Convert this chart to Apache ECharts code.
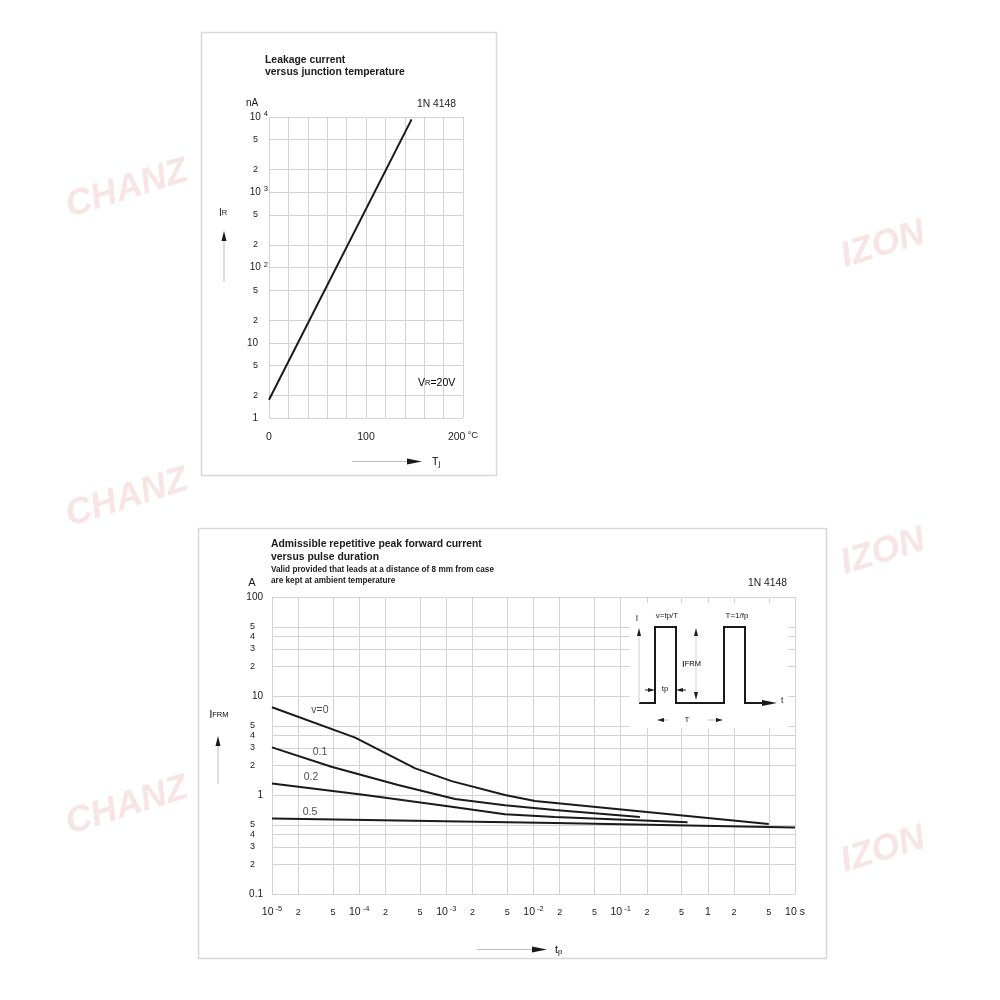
<!DOCTYPE html>
<html><head><meta charset="utf-8">
<script src="https://cdn.jsdelivr.net/npm/echarts@6/dist/echarts.min.js"></script>
<style>html,body{margin:0;padding:0;background:#fff}#c{width:1000px;height:1000px}</style>
</head><body><div id="c"></div>
<script>
// ---------- Top chart: leakage current vs junction temperature ----------
const tjTemp = [0, 147];            // °C
const irLeakage = [1.75, 9300];     // nA
const irMinorTicks = [2, 5, 20, 50, 200, 500, 2000, 5000];
const irMinorLabels = ['2', '5', '2', '5', '2', '5', '2', '5'];
const tjLabelValues = [0, 100, 200];

// ---------- Bottom chart: IFRM vs pulse duration ----------
const tpV0 = [1e-5, 9e-5, 4.4e-4, 1.15e-3, 4.7e-3, 1.04e-2, 5];
const ifrmV0 = [7.7, 3.8, 1.86, 1.38, 1.0, 0.87, 0.51];
const tpV01 = [1e-5, 4.8e-5, 2.8e-4, 1.26e-3, 4.7e-3, 1.76e-2, 0.166];
const ifrmV01 = [3.03, 1.93, 1.26, 0.91, 0.79, 0.705, 0.6];
const tpV02 = [1e-5, 1.17e-4, 1.15e-3, 4.7e-3, 1.76e-2, 0.585];
const ifrmV02 = [1.31, 1.0, 0.76, 0.64, 0.60, 0.53];
const tpV05 = [1e-5, 1.76e-2, 10];
const ifrmV05 = [0.58, 0.52, 0.47];
const curveNames = ['v=0', '0.1', '0.2', '0.5'];
const curveLabelAnchors = [[3.55e-5, 7.2], [3.55e-5, 2.72], [2.8e-5, 1.52], [2.73e-5, 0.673]];

const tpMinorTicks = [2e-5, 5e-5, 2e-4, 5e-4, 2e-3, 5e-3, 2e-2, 5e-2, 0.2, 0.5, 2, 5];
const tpMinorLabels = ['2', '5', '2', '5', '2', '5', '2', '5', '2', '5', '2', '5'];
const ifrmMinorTicks = [0.2, 0.3, 0.4, 0.5, 2, 3, 4, 5, 20, 30, 40, 50];
const ifrmMinorLabels = ['2', '3', '4', '5', '2', '3', '4', '5', '2', '3', '4', '5'];

const FONT = 'Liberation Sans, Arial, sans-serif';
const GRID_C = '#d3d3d3';
const INK = '#1a1a1a';

function zip(a, b) { return a.map((v, i) => [v, b[i]]); }
function exp10(v) { return Math.round(Math.log10(v)); }

const supRich = {
  b: { fontSize: 10, color: INK, fontFamily: FONT, lineHeight: 14 },
  s: { fontSize: 7.5, color: INK, fontFamily: FONT, lineHeight: 8, verticalAlign: 'top', padding: [0, 0, 0, 3] },
  sp: { width: 10, fontSize: 10, lineHeight: 14 }
};
const supRichX = {
  b: { fontSize: 10.5, color: INK, fontFamily: FONT, lineHeight: 14 },
  s: { fontSize: 7.5, color: INK, fontFamily: FONT, lineHeight: 8, verticalAlign: 'top', padding: [0, 0, 0, 2] },
  c: { fontSize: 9.5, color: INK, fontFamily: FONT, lineHeight: 10, verticalAlign: 'top', padding: [0, 0, 0, 2] }
};

function minorLines(axisKey, values, labels, labelCfg) {
  return {
    silent: true,
    precision: 10,
    symbol: ['none', 'none'],
    animation: false,
    lineStyle: { color: GRID_C, width: 1, type: 'solid' },
    emphasis: { disabled: true },
    label: Object.assign({ show: true, position: 'start', formatter: '{b}', color: INK, fontSize: 9, fontFamily: FONT }, labelCfg),
    data: values.map((v, i) => ({ [axisKey]: v, name: labels[i] }))
  };
}

const chart = echarts.init(document.getElementById('c'), null, { renderer: 'canvas' });

function wm(text, x, y) {
  return {
    type: 'text', x: x, y: y, rotation: 0.3, z: 1, silent: true,
    style: { text: text, fill: '#f7e4e4', font: 'italic bold 36px ' + FONT, align: 'center', verticalAlign: 'middle' }
  };
}
function txt(text, x, y, size, opts) {
  return Object.assign({
    type: 'text', x: x, y: y, z: 50, silent: true,
    style: Object.assign({ text: text, fill: INK, fontSize: size, fontFamily: FONT, align: 'left', verticalAlign: 'middle' }, (opts || {}))
  });
}
function tri(points) {
  return { type: 'polygon', z: 60, silent: true, shape: { points: points }, style: { fill: INK } };
}
function seg(x1, y1, x2, y2, color, w) {
  return { type: 'line', z: 60, silent: true, shape: { x1: x1, y1: y1, x2: x2, y2: y2 }, style: { stroke: color || INK, lineWidth: w || 1 } };
}

const graphics = [
  // watermarks
  wm('CHANZ', 127, 189), wm('CHANZ', 127, 498), wm('CHANZ', 127, 806),
  wm('IZON', 883, 245), wm('IZON', 883, 552), wm('IZON', 883, 850),
  // panels
  { type: 'rect', z: 0, silent: true, shape: { x: 201.5, y: 32.5, width: 295, height: 443 }, style: { fill: 'none', stroke: '#d8d8d8', lineWidth: 1.5 } },
  { type: 'rect', z: 0, silent: true, shape: { x: 198.5, y: 528.5, width: 628, height: 430 }, style: { fill: 'none', stroke: '#d8d8d8', lineWidth: 1.5 } },
  // top chart texts
  txt('Leakage current', 265, 60, 10.4, { fontWeight: 'bold' }),
  txt('versus junction temperature', 265, 72.5, 10.4, { fontWeight: 'bold' }),
  txt('nA', 252, 103, 10, { align: 'center' }),
  txt('1N 4148', 417, 104, 10.3),
  { type: 'text', x: 223, y: 213, z: 50, silent: true, style: { text: '{a|I}{b|R}', align: 'center', verticalAlign: 'middle', rich: { a: { fontSize: 10, fontFamily: FONT, fill: INK, color: INK }, b: { fontSize: 7.5, fontFamily: FONT, color: INK, fill: INK } } } },
  tri([[221.5, 241], [226.5, 241], [224, 231]]),
  seg(224, 241, 224, 282, '#bdbdbd', 1),
  { type: 'text', x: 418, y: 383, z: 50, silent: true, style: { text: '{a|V}{b|R}{a|=20V}', align: 'left', verticalAlign: 'middle', rich: { a: { fontSize: 10.5, fontFamily: FONT, color: INK }, b: { fontSize: 7.5, fontFamily: FONT, color: INK } } } },
  seg(352, 461.5, 408, 461.5, '#bdbdbd', 1),
  tri([[407, 458.5], [407, 464.5], [422, 461.5]]),
  { type: 'text', x: 432, y: 462, z: 50, silent: true, style: { text: '{a|T}{b|j}', align: 'left', verticalAlign: 'middle', rich: { a: { fontSize: 10.5, fontFamily: FONT, color: INK }, b: { fontSize: 7.5, fontFamily: FONT, color: INK, padding: [4, 0, 0, 0] } } } },
  // bottom chart texts
  txt('Admissible repetitive peak forward current', 271, 544, 10.4, { fontWeight: 'bold' }),
  txt('versus pulse duration', 271, 557, 10.4, { fontWeight: 'bold' }),
  txt('Valid provided that leads at a distance of 8 mm from case', 271, 569.5, 8.2, { fontWeight: 'bold' }),
  txt('are kept at ambient temperature', 271, 580.5, 8.2, { fontWeight: 'bold' }),
  txt('A', 252, 583, 11, { align: 'center' }),
  txt('1N 4148', 748, 583, 10.3),
  { type: 'text', x: 219, y: 715, z: 50, silent: true, style: { text: '{a|I}{b|FRM}', align: 'center', verticalAlign: 'middle', rich: { a: { fontSize: 10, fontFamily: FONT, color: INK }, b: { fontSize: 7.5, fontFamily: FONT, color: INK } } } },
  tri([[215.5, 746], [220.5, 746], [218, 736]]),
  seg(218, 746, 218, 784, '#bdbdbd', 1),
  seg(477, 949.5, 535, 949.5, '#bdbdbd', 1),
  tri([[532, 946.5], [532, 952.5], [547, 949.5]]),
  { type: 'text', x: 555, y: 950, z: 50, silent: true, style: { text: '{a|t}{b|p}', align: 'left', verticalAlign: 'middle', rich: { a: { fontSize: 10.5, fontFamily: FONT, color: INK }, b: { fontSize: 7.5, fontFamily: FONT, color: INK, padding: [4, 0, 0, 0] } } } },
  // inset pulse diagram
  { type: 'rect', z: 40, silent: true, shape: { x: 630, y: 603, width: 158, height: 125 }, style: { fill: '#ffffff' } },
  { type: 'polyline', z: 60, silent: true, shape: { points: [[639, 703], [655, 703], [655, 627], [676, 627], [676, 703], [724, 703], [724, 627], [745, 627], [745, 703], [766, 703]] }, style: { stroke: INK, lineWidth: 2, fill: 'none' } },
  tri([[762, 700], [762, 706], [777, 703]]),
  txt('t', 781, 701, 8.5),
  txt('I', 637, 619, 8.5, { align: 'center' }),
  tri([[637, 636], [641, 636], [639, 628]]),
  seg(639, 636, 639, 703, '#cfcfcf', 1),
  txt('v=tp/T', 667, 616, 8, { align: 'center' }),
  txt('T=1/fp', 737, 616, 8, { align: 'center' }),
  tri([[694, 636], [698, 636], [696, 628]]),
  tri([[694, 692], [698, 692], [696, 700]]),
  seg(696, 636, 696, 692, '#d5d5d5', 1),
  { type: 'text', x: 682, y: 664, z: 60, silent: true, style: { text: '{a|I}{b|FRM}', align: 'left', verticalAlign: 'middle', rich: { a: { fontSize: 9.5, fontFamily: FONT, color: INK }, b: { fontSize: 7.5, fontFamily: FONT, color: INK } } } },
  seg(645, 690, 648, 690, INK, 1),
  tri([[648, 688], [648, 692], [655, 690]]),
  txt('tp', 665, 689, 8, { align: 'center' }),
  seg(683, 690, 686, 690, INK, 1),
  tri([[683, 688], [683, 692], [676, 690]]),
  tri([[664, 718], [664, 722], [657, 720]]),
  seg(664, 720, 668, 720, '#bdbdbd', 1),
  txt('T', 687, 720, 8, { align: 'center' }),
  seg(708, 720, 716, 720, '#bdbdbd', 1),
  tri([[716, 718], [716, 722], [723, 720]])
];

const option = {
  animation: false,
  backgroundColor: '#ffffff',
  textStyle: { fontFamily: FONT },
  grid: [
    { left: 269, top: 117, width: 194, height: 301, containLabel: false },
    { left: 272, top: 597, width: 523, height: 297, containLabel: false }
  ],
  xAxis: [
    {
      gridIndex: 0, type: 'value', min: 0, max: 200, interval: 20,
      axisLine: { show: false }, axisTick: { show: false },
      splitLine: { show: true, lineStyle: { color: GRID_C, width: 1 } },
      axisLabel: {
        margin: 12, color: INK, fontSize: 10.5, fontFamily: FONT,
        formatter: v => tjLabelValues.indexOf(v) < 0 ? '' : (v === 200 ? '{b|200}{c|°C}' : '{b|' + v + '}'),
        rich: supRichX
      }
    },
    {
      gridIndex: 1, type: 'log', logBase: 10, min: 1e-5, max: 10, splitNumber: 6,
      axisLine: { show: false }, axisTick: { show: false },
      splitLine: { show: true, lineStyle: { color: GRID_C, width: 1 } },
      axisLabel: {
        margin: 11, color: INK, fontFamily: FONT, showMinLabel: true, showMaxLabel: true,
        formatter: v => {
          const e = exp10(v);
          if (e === 0) return '{b|1}';
          if (e === 1) return '{b|10 s}';
          return '{b|10}{s|' + e + '}';
        },
        rich: supRichX
      }
    }
  ],
  yAxis: [
    {
      gridIndex: 0, type: 'log', logBase: 10, min: 1, max: 10000, splitNumber: 4,
      axisLine: { show: false }, axisTick: { show: false },
      splitLine: { show: true, lineStyle: { color: GRID_C, width: 1 } },
      axisLabel: {
        margin: 1, align: 'right', color: INK, fontFamily: FONT, showMinLabel: true, showMaxLabel: true,
        formatter: v => {
          const e = exp10(v);
          if (e === 0) return '{b|1}{sp| }';
          if (e === 1) return '{b|10}{sp| }';
          return '{b|10}{s|' + e + '}';
        },
        rich: supRich
      }
    },
    {
      gridIndex: 1, type: 'log', logBase: 10, min: 0.1, max: 100, splitNumber: 3,
      axisLine: { show: false }, axisTick: { show: false },
      splitLine: { show: true, lineStyle: { color: GRID_C, width: 1 } },
      axisLabel: {
        margin: 9, align: 'right', color: INK, fontSize: 10, fontFamily: FONT, showMinLabel: true, showMaxLabel: true,
        formatter: v => { const e = exp10(v); return e < 0 ? '0.1' : String(Math.pow(10, e)); }
      }
    }
  ],
  series: [
    { type: 'line', xAxisIndex: 0, yAxisIndex: 0, z: 1, data: [], silent: true,
      markLine: minorLines('yAxis', irMinorTicks, irMinorLabels, { distance: 11, fontSize: 9 }) },
    { type: 'line', xAxisIndex: 0, yAxisIndex: 0, z: 5, data: zip(tjTemp, irLeakage), symbol: 'none', silent: true,
      lineStyle: { color: INK, width: 2 } },
    { type: 'line', xAxisIndex: 1, yAxisIndex: 1, z: 1, data: [], silent: true,
      markLine: minorLines('yAxis', ifrmMinorTicks, ifrmMinorLabels, { distance: 17, fontSize: 9 }) },
    { type: 'line', xAxisIndex: 1, yAxisIndex: 1, z: 1, data: [], silent: true,
      markLine: minorLines('xAxis', tpMinorTicks, tpMinorLabels, { distance: 14, fontSize: 9 }) },
    { type: 'line', name: curveNames[0], xAxisIndex: 1, yAxisIndex: 1, z: 5, data: zip(tpV0, ifrmV0), symbol: 'none', silent: true, lineStyle: { color: INK, width: 2 } },
    { type: 'line', name: curveNames[1], xAxisIndex: 1, yAxisIndex: 1, z: 5, data: zip(tpV01, ifrmV01), symbol: 'none', silent: true, lineStyle: { color: INK, width: 2 } },
    { type: 'line', name: curveNames[2], xAxisIndex: 1, yAxisIndex: 1, z: 5, data: zip(tpV02, ifrmV02), symbol: 'none', silent: true, lineStyle: { color: INK, width: 2 } },
    { type: 'line', name: curveNames[3], xAxisIndex: 1, yAxisIndex: 1, z: 5, data: zip(tpV05, ifrmV05), symbol: 'none', silent: true, lineStyle: { color: INK, width: 2 } },
    { type: 'scatter', xAxisIndex: 1, yAxisIndex: 1, z: 6, silent: true, symbolSize: 1,
      itemStyle: { color: 'rgba(0,0,0,0)' },
      label: { show: true, position: 'inside', formatter: p => p.data[2], color: INK, fontSize: 10.5, fontFamily: FONT },
      data: curveLabelAnchors.map((a, i) => [a[0], a[1], curveNames[i]]) }
  ],
  graphic: { elements: graphics }
};
chart.setOption(option);
</script></body></html>
